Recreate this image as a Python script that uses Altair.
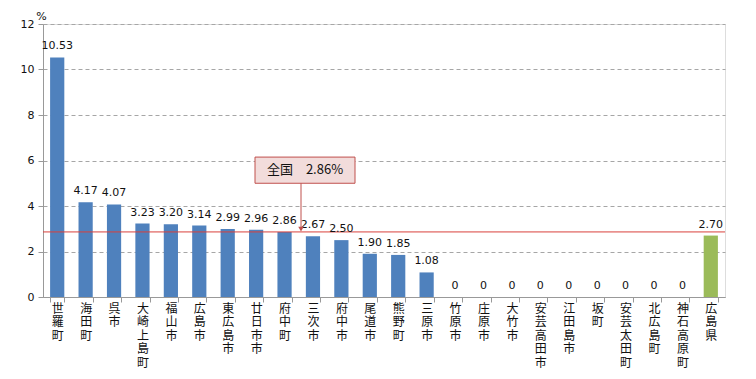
import altair as alt
import pandas as pd

names = ["世羅町", "海田町", "呉市", "大崎上島町", "福山市", "広島市", "東広島市", "廿日市市",
         "府中町", "三次市", "府中市", "尾道市", "熊野町", "三原市", "竹原市", "庄原市", "大竹市",
         "安芸高田市", "江田島市", "坂町", "安芸太田町", "北広島町", "神石高原町", "広島県"]
values = [10.53, 4.17, 4.07, 3.23, 3.20, 3.14, 2.99, 2.96, 2.86, 2.67, 2.50, 1.90, 1.85, 1.08,
          0, 0, 0, 0, 0, 0, 0, 0, 0, 2.70]
national_value = 2.86
annotation_text = "全国　2.86%"
y_ticks = [0, 2, 4, 6, 8, 10, 12]

df = pd.DataFrame({
    "name": names,
    "value": values,
    "label": ["0" if v == 0 else f"{v:.2f}" for v in values],
    "kind": ["県" if n == "広島県" else "市町" for n in names],
})

W, H = 682, 273
FONT_NUM = "DejaVu Sans"
FONT_JP = "Noto Sans CJK JP"

x = alt.X("name:N", sort=names,
          scale=alt.Scale(paddingInner=0.5, paddingOuter=0.25),
          axis=alt.Axis(title=None, labelAngle=0, labelExpr="split(datum.label, '')",
                        labelFont=FONT_JP, labelFontSize=12, labelLineHeight=13.5,
                        labelBaseline="top", labelPadding=1, labelColor="#111",
                        tickBand="extent", tickSize=5, tickColor="#999",
                        domainColor="#999", grid=False))
y = alt.Y("value:Q",
          scale=alt.Scale(domain=[0, 12], nice=False),
          axis=alt.Axis(values=y_ticks, title="%", titleAngle=0, titleX=-2, titleY=-3,
                        titleAlign="center", titleBaseline="bottom", titleFont=FONT_NUM,
                        titleFontSize=11, titleFontWeight="normal", titleColor="#111",
                        labelFont=FONT_NUM, labelFontSize=11, labelColor="#111",
                        tickSize=5, tickColor="#999", domainColor="#999",
                        grid=True, gridColor="#a6a6a6", gridDash=[4, 3], labelPadding=4))

base = alt.Chart(df)
bars = base.mark_bar().encode(
    x=x, y=y,
    color=alt.Color("kind:N", scale=alt.Scale(domain=["市町", "県"], range=["#4f81bd", "#9bbb59"]),
                    legend=None),
)
labels = base.mark_text(baseline="bottom", dy=-6, font=FONT_NUM, fontSize=11, color="#111").encode(
    x=alt.X("name:N", sort=names), y="value:Q", text="label:N"
)

nat = pd.DataFrame({"v": [national_value]})
redline = alt.Chart(nat).mark_rule(color="#d9413c", strokeWidth=1).encode(y="v:Q")

ann = pd.DataFrame({"top": [6.15], "bottom": [5.0], "mid": [5.575], "tip": [2.98],
                    "txt": [annotation_text]})
box = alt.Chart(ann).mark_rect(fill="#f2dcdb", stroke="#c0504d", strokeWidth=1).encode(
    x=alt.value(212), x2=alt.value(312), y="top:Q", y2="bottom:Q")
box_text = alt.Chart(ann).mark_text(font=FONT_JP, fontSize=13, color="#111").encode(
    x=alt.value(262), y="mid:Q", text="txt:N")
arrow = alt.Chart(ann).mark_rule(color="#c0504d", strokeWidth=1).encode(
    x=alt.value(258), y="bottom:Q", y2="tip:Q")
head = alt.Chart(ann).mark_point(shape="triangle-down", filled=True, color="#c0504d",
                                 size=30, opacity=1).encode(x=alt.value(258), y="tip:Q")

chart = alt.layer(bars, redline, labels, box, box_text, arrow, head).properties(
    width=W, height=H,
    autosize=alt.AutoSizeParams(type="none"),
    padding={"left": 35, "top": 16, "right": 23, "bottom": 74},
).configure_view(stroke=None).configure(background="white")

chart.save("out.html", embed_options={"renderer": "svg", "actions": False})
